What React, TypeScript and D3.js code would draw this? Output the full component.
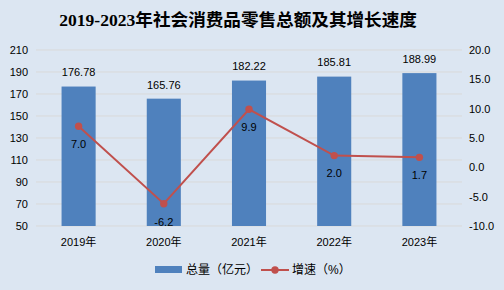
import React from "react";
import * as d3 from "d3";

const categories = ["2019年", "2020年", "2021年", "2022年", "2023年"];
const totals = [176.78, 165.76, 182.22, 185.81, 188.99];
const growth = [7.0, -6.2, 9.9, 2.0, 1.7];
const leftTicks = [50, 70, 90, 110, 130, 150, 170, 190, 210];
const rightTicks = [-10, -5, 0, 5, 10, 15, 20];

const W = 504;
const H = 290;
const M = { left: 36, right: 462, top: 50, bottom: 226 };
const FONT = "'Liberation Sans', 'Noto Sans CJK SC', sans-serif";

export default function App() {
  const x = d3.scaleBand().domain(categories).range([M.left, M.right]).paddingInner(0.6).paddingOuter(0.3);
  const yL = d3.scaleLinear().domain([50, 210]).range([M.bottom, M.top]);
  const yR = d3.scaleLinear().domain([-10, 20]).range([M.bottom, M.top]);
  const cx = (c: string) => (x(c) as number) + x.bandwidth() / 2;
  const line = d3
    .line<number>()
    .x((_, i) => cx(categories[i]))
    .y((d) => yR(d));

  return (
    <svg width={W} height={H} style={{ position: "absolute", left: 0, top: 0 }} fontFamily={FONT}>
      <rect x={0} y={0} width={W} height={H} fill="#dce6f2" />
      <text
        x={238}
        y={26}
        textAnchor="middle"
        fontSize={17.6}
        fontWeight="bold"
        fontFamily="'Liberation Serif', 'Noto Sans CJK SC', serif"
        fill="#000"
      >
        2019-2023年社会消费品零售总额及其增长速度
      </text>
      {leftTicks.map((t) => (
        <g key={"l" + t}>
          <line x1={M.left} x2={M.right} y1={yL(t)} y2={yL(t)} stroke="#d9d9d9" strokeWidth={1} />
          <text x={28} y={yL(t)} dy="0.35em" textAnchor="end" fontSize={11} fill="#000">
            {t}
          </text>
        </g>
      ))}
      {rightTicks.map((t) => (
        <text key={"r" + t} x={469} y={yR(t)} dy="0.35em" textAnchor="start" fontSize={11} fill="#000">
          {t.toFixed(1)}
        </text>
      ))}
      {categories.map((c, i) => (
        <g key={c}>
          <rect
            x={x(c)}
            y={yL(totals[i])}
            width={x.bandwidth()}
            height={yL(50) - yL(totals[i])}
            fill="#4f81bd"
          />
          <text x={cx(c)} y={yL(totals[i]) - 14} dy="0.35em" textAnchor="middle" fontSize={11} fill="#000">
            {totals[i].toFixed(2)}
          </text>
          <text x={cx(c)} y={242} dy="0.35em" textAnchor="middle" fontSize={11} fill="#000">
            {c}
          </text>
        </g>
      ))}
      <path d={line(growth) as string} fill="none" stroke="#c0504d" strokeWidth={2} />
      {categories.map((c, i) => (
        <g key={"p" + c}>
          <circle cx={cx(c)} cy={yR(growth[i])} r={3.7} fill="#c0504d" />
          <text x={cx(c)} y={yR(growth[i]) + 18} dy="0.35em" textAnchor="middle" fontSize={11} fill="#000">
            {growth[i].toFixed(1)}
          </text>
        </g>
      ))}
      <g>
        <rect x={155} y={266} width={27} height={7} fill="#4f81bd" />
        <text x={186} y={270} dy="0.35em" fontSize={12} fill="#000">
          总量（亿元）
        </text>
        <line x1={261} x2={289} y1={270} y2={270} stroke="#c0504d" strokeWidth={2} />
        <circle cx={275} cy={270} r={3.7} fill="#c0504d" />
        <text x={292} y={270} dy="0.35em" fontSize={12} fill="#000">
          增速（%）
        </text>
      </g>
    </svg>
  );
}
